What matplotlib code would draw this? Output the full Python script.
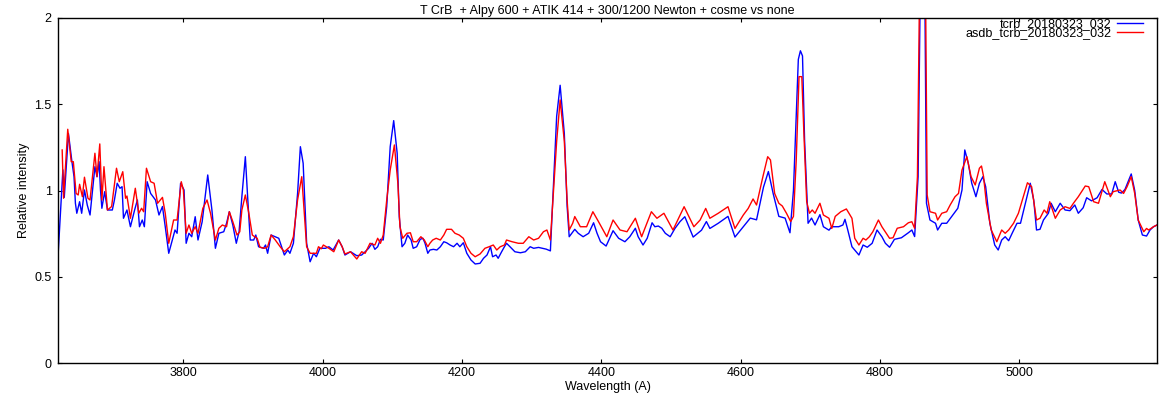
import matplotlib
matplotlib.use("Agg")
import matplotlib.pyplot as plt

title = "T CrB  + Alpy 600 + ATIK 414 + 300/1200 Newton + cosme vs none"
x_label = "Wavelength (A)"
y_label = "Relative intensity"
label_blue = "tcrb_20180323_032"
label_red = "asdb_tcrb_20180323_032"
x_ticks = [3800, 4000, 4200, 4400, 4600, 4800, 5000]
y_ticks = [0, 0.5, 1, 1.5, 2]

blue_wl = [3620, 3627, 3629, 3635, 3640, 3643, 3645, 3647, 3651, 3654, 3658, 3662, 3666, 3673, 3676, 3679,
           3681, 3683, 3687, 3691, 3698, 3701, 3705, 3709, 3712, 3714, 3719, 3724, 3730, 3734, 3737, 3741,
           3744, 3748, 3753, 3760, 3765, 3770, 3774, 3779, 3788, 3791, 3796, 3801, 3804, 3808, 3812, 3817,
           3821, 3827, 3835, 3841, 3846, 3851, 3858, 3862, 3866, 3871, 3876, 3880, 3884, 3889, 3892, 3896,
           3901, 3904, 3908, 3915, 3918, 3921, 3926, 3932, 3937, 3945, 3950, 3953, 3958, 3964, 3968, 3972,
           3977, 3982, 3987, 3991, 3996, 4004, 4009, 4015, 4023, 4028, 4032, 4040, 4049, 4056,
           4061, 4066, 4071, 4075, 4079, 4083, 4087, 4092, 4097, 4102, 4107, 4110, 4114, 4118, 4122, 4127,
           4130, 4135, 4140, 4144, 4147, 4151, 4154, 4159, 4164, 4169, 4174, 4178, 4183, 4188, 4193, 4197,
           4202, 4207, 4213, 4219, 4226, 4231, 4236, 4241, 4244, 4249, 4252, 4257, 4261, 4264, 4269, 4276,
           4284, 4291, 4298, 4303, 4310,
           4321, 4327, 4331, 4336, 4341, 4347, 4351, 4354, 4362, 4367, 4374, 4382, 4389, 4394, 4399, 4407,
           4417, 4425, 4434, 4441, 4449, 4453, 4460, 4466, 4473, 4477, 4482, 4487, 4492, 4499, 4506, 4513,
           4520, 4532, 4544, 4551, 4556, 4568, 4582, 4592, 4604,
           4614, 4623, 4633, 4640, 4647, 4655, 4664, 4671, 4676, 4683, 4686, 4689, 4692, 4697, 4702, 4707,
           4714, 4719, 4727, 4731, 4741, 4747, 4750, 4754, 4760, 4770, 4776, 4782, 4789, 4796, 4803, 4808,
           4814, 4821, 4831, 4841, 4846, 4850, 4855, 4859, 4864, 4867, 4872, 4880, 4883, 4889, 4896, 4903,
           4912, 4918, 4922, 4927, 4932, 4938, 4943, 4948, 4952, 4958, 4965, 4970, 4975, 4980, 4985, 4990,
           4997, 5002, 5009, 5016, 5021, 5025, 5030, 5035, 5042, 5046, 5052, 5059, 5066, 5073, 5080, 5085,
           5092, 5097, 5104, 5112, 5119, 5126, 5133, 5138, 5143, 5147, 5152, 5161, 5166, 5171, 5177, 5183,
           5188, 5193, 5198]
blue_val = [0.616, 1.12, 0.96, 1.33, 1.167, 1.08, 0.926, 0.868, 0.935, 0.868, 1.003, 0.916, 0.858, 1.138, 1.08, 1.167,
            1.003, 0.897, 0.993, 0.887, 0.887, 0.945, 1.042, 1.013, 1.022, 0.839, 0.887, 0.79, 0.887, 0.945, 0.79, 0.829,
            0.79, 1.051, 0.983, 0.945, 0.858, 0.907, 0.79, 0.636, 0.771, 0.752, 1.042, 1.003, 0.694, 0.752, 0.732, 0.848,
            0.713, 0.819, 1.09, 0.887, 0.665, 0.752, 0.761, 0.81, 0.877, 0.80, 0.694, 0.761, 0.964, 1.196, 0.983, 0.713,
            0.713, 0.742, 0.674, 0.665, 0.684, 0.636, 0.742, 0.732, 0.723, 0.626, 0.655, 0.636, 0.694, 0.983, 1.254, 1.158,
            0.694, 0.587, 0.636, 0.616, 0.665, 0.665, 0.674, 0.655, 0.713, 0.674, 0.626, 0.645, 0.622, 0.626,
            0.645, 0.665, 0.694, 0.659, 0.674, 0.717, 0.713, 0.907, 1.254, 1.405, 1.216, 0.848, 0.674, 0.694, 0.742, 0.713,
            0.665, 0.674, 0.717, 0.723, 0.694, 0.636, 0.655, 0.659, 0.655, 0.674, 0.703, 0.697, 0.684, 0.674, 0.694, 0.674,
            0.697, 0.636, 0.597, 0.574, 0.578, 0.607, 0.626, 0.674, 0.616, 0.626, 0.607, 0.645, 0.674, 0.694, 0.674, 0.645,
            0.639, 0.645, 0.674, 0.665, 0.67,
            0.66, 0.65, 1.00, 1.43, 1.61, 1.33, 0.91, 0.732, 0.775, 0.752, 0.732, 0.752, 0.813, 0.752, 0.703, 0.678,
            0.767, 0.723, 0.703, 0.732, 0.781, 0.732, 0.684, 0.723, 0.813, 0.79, 0.794, 0.781, 0.752, 0.732, 0.781, 0.819,
            0.848, 0.73, 0.77, 0.82, 0.78, 0.81, 0.85, 0.73, 0.79,
            0.84, 0.83, 1.02, 1.11, 0.98, 0.85, 0.84, 0.755, 1.00, 1.76, 1.81, 1.78, 1.29, 0.81, 0.84, 0.80,
            0.86, 0.79, 0.77, 0.79, 0.79, 0.80, 0.833, 0.771, 0.674, 0.626, 0.684, 0.671, 0.694, 0.771, 0.732, 0.694,
            0.671, 0.717, 0.726, 0.755, 0.771, 0.733, 1.08, 2.5, 2.5, 0.926, 0.829, 0.81, 0.771, 0.81, 0.81, 0.848,
            0.897, 1.003, 1.235, 1.158, 1.042, 0.964, 1.042, 1.08, 1.022, 0.81, 0.684, 0.655, 0.713, 0.732, 0.709, 0.752,
            0.81, 0.81, 0.926, 1.042, 0.945, 0.771, 0.775, 0.829, 0.868, 0.926, 0.877, 0.926, 0.887, 0.883, 0.916, 0.868,
            0.90, 0.958, 0.94, 0.958, 1.006, 0.98, 0.98, 1.051, 0.99, 0.985, 1.006, 1.096, 1.0, 0.829, 0.742, 0.736,
            0.771, 0.79, 0.80]

red_wl = [3626, 3628, 3634, 3639, 3642, 3646, 3649, 3651, 3655, 3658, 3663, 3666, 3673, 3676, 3680, 3683,
          3686, 3691, 3697, 3704, 3708, 3713, 3717, 3719, 3724, 3731, 3736, 3740, 3743, 3747, 3753, 3758,
          3763, 3770, 3774, 3779, 3786, 3791, 3797, 3800, 3804, 3808, 3812, 3817, 3821, 3828, 3834, 3839,
          3846, 3851, 3856, 3862, 3866, 3871, 3877, 3881, 3884, 3889, 3894, 3899, 3902, 3906, 3910, 3917,
          3921, 3926, 3932, 3939, 3945, 3953, 3958, 3964, 3970, 3973, 3977, 3982, 3991, 3994, 3998, 4001,
          4009, 4016, 4023, 4028, 4032, 4040, 4049, 4056,
          4061, 4068, 4075, 4079, 4083, 4087, 4092, 4097, 4103, 4108, 4111, 4115, 4121, 4126, 4130, 4135,
          4141, 4146, 4151, 4154, 4158, 4163, 4169, 4174, 4178, 4185, 4190, 4196, 4202, 4207, 4213, 4219,
          4226, 4233, 4239, 4245, 4250, 4255, 4261, 4264, 4272, 4281, 4288, 4296, 4303,
          4310, 4317, 4322, 4327, 4331, 4336, 4341, 4347, 4351, 4354, 4359, 4362, 4370, 4379, 4388, 4396,
          4408, 4417, 4427, 4437, 4449, 4458, 4472, 4480, 4490, 4503, 4519, 4533, 4542, 4550, 4556, 4568,
          4582, 4592, 4604, 4611, 4618, 4623, 4632, 4639, 4643, 4649, 4655, 4660, 4666, 4672, 4676, 4680,
          4684, 4688, 4691, 4695, 4699, 4703, 4707, 4714, 4719, 4727, 4731, 4736, 4744, 4752, 4760, 4764,
          4770, 4776, 4780, 4785, 4790, 4798, 4803, 4810, 4814, 4819, 4825, 4834, 4841, 4846, 4850, 4854,
          4858, 4865, 4868, 4872, 4880, 4883, 4889, 4896, 4901, 4908, 4913, 4918, 4925, 4931, 4937, 4943,
          4946, 4949, 4953, 4960, 4968, 4975, 4980, 4985, 4992, 4999, 5006, 5012, 5018, 5025, 5030, 5036,
          5040, 5044, 5052, 5059, 5066, 5073, 5078, 5085, 5095, 5100, 5107, 5114, 5123, 5131, 5135, 5145,
          5150, 5155, 5161, 5166, 5171, 5179, 5183, 5186, 5193, 5198]
red_val = [1.235, 0.955, 1.355, 1.167, 1.167, 0.983, 0.974, 1.036, 0.964, 1.077, 0.955, 0.945, 1.216, 1.08, 1.27, 0.945,
           1.138, 0.887, 0.907, 1.129, 1.051, 1.109, 0.955, 0.968, 0.839, 1.013, 0.868, 0.897, 0.877, 1.129, 1.051, 1.042,
           0.926, 0.96, 0.868, 0.694, 0.829, 0.829, 1.051, 1.003, 0.752, 0.80, 0.752, 0.79, 0.752, 0.897, 0.945, 0.868,
           0.713, 0.781, 0.80, 0.79, 0.877, 0.819, 0.742, 0.761, 0.887, 0.974, 0.868, 0.742, 0.733, 0.723, 0.671, 0.665,
           0.674, 0.742, 0.713, 0.674, 0.645, 0.674, 0.733, 0.945, 1.08, 0.907, 0.674, 0.636, 0.636, 0.674, 0.662, 0.684,
           0.665, 0.645, 0.713, 0.674, 0.632, 0.645, 0.603, 0.645,
           0.636, 0.694, 0.684, 0.723, 0.694, 0.742, 0.945, 1.119, 1.264, 1.042, 0.79, 0.723, 0.752, 0.755, 0.703, 0.703,
           0.732, 0.713, 0.674, 0.694, 0.713, 0.723, 0.713, 0.742, 0.775, 0.775, 0.752, 0.742, 0.723, 0.674, 0.636, 0.616,
           0.632, 0.665, 0.674, 0.684, 0.655, 0.674, 0.684, 0.713, 0.703, 0.694, 0.694, 0.732, 0.713,
           0.723, 0.761, 0.771, 0.713, 0.97, 1.285, 1.525, 1.285, 0.945, 0.771, 0.81, 0.849, 0.79, 0.79, 0.877, 0.82,
           0.732, 0.829, 0.771, 0.761, 0.839, 0.732, 0.877, 0.839, 0.868, 0.771, 0.906, 0.79, 0.829, 0.896, 0.839, 0.868,
           0.906, 0.78, 0.858, 0.896, 0.951, 0.916, 1.078, 1.196, 1.177, 0.983, 0.926, 0.91, 0.868, 0.82, 0.85, 1.177,
           1.66, 1.66, 1.33, 0.935, 0.868, 0.887, 0.868, 0.926, 0.858, 0.839, 0.78, 0.85, 0.877, 0.893, 0.839, 0.723,
           0.684, 0.723, 0.713, 0.732, 0.761, 0.829, 0.79, 0.748, 0.723, 0.726, 0.781, 0.79, 0.813, 0.819, 0.781, 1.08,
           2.5, 2.5, 0.974, 0.877, 0.868, 0.829, 0.868, 0.877, 0.916, 0.964, 0.983, 1.119, 1.196, 1.08, 1.032, 1.129,
           1.142, 1.08, 0.926, 0.771, 0.703, 0.771, 0.752, 0.771, 0.81, 0.868, 0.964, 1.045, 1.022, 0.829, 0.839, 0.887,
           0.868, 0.935, 0.839, 0.887, 0.906, 0.896, 0.926, 0.964, 1.026, 1.022, 0.935, 0.926, 1.051, 0.964, 0.993, 1.003,
           0.983, 1.022, 1.08, 0.983, 0.829, 0.761, 0.78, 0.771, 0.79, 0.80]

plt.rcParams['font.family'] = ['Liberation Sans', 'DejaVu Sans']
fs = 9

fig = plt.figure(figsize=(11.72, 3.93), dpi=100)
ax = fig.add_axes([58 / 1172, 30 / 393, 1099 / 1172, 345 / 393])

ax.plot(blue_wl, blue_val, color='#0000ff', lw=1.0, label=label_blue)
ax.plot(red_wl, red_val, color='#ff0000', lw=1.0, label=label_red)

ax.set_xlim(3620, 5198)
ax.set_ylim(0, 2)
ax.set_xticks(x_ticks)
ax.set_yticks(y_ticks)
ax.set_yticklabels([f"{t:g}" for t in y_ticks])
ax.tick_params(direction='in', top=True, right=True, length=3, width=0.8, labelsize=fs, colors='black')
ax.tick_params(axis='x', pad=3)
ax.tick_params(axis='y', pad=4.5)
for s in ax.spines.values():
    s.set_linewidth(1.0)
    s.set_color('black')

ax.set_xlabel(x_label, fontsize=fs, labelpad=1.2)
ax.set_ylabel(y_label, fontsize=fs, labelpad=3)
ax.set_title(title, fontsize=fs, pad=3)

leg = ax.legend(loc='upper right', bbox_to_anchor=(1085 / 1099, 1.0), markerfirst=False, frameon=False,
                fontsize=fs, handlelength=2.1, handletextpad=0.45, labelspacing=-0.25,
                borderpad=0.0, borderaxespad=0.0)

fig.savefig('out.png', dpi=100)
